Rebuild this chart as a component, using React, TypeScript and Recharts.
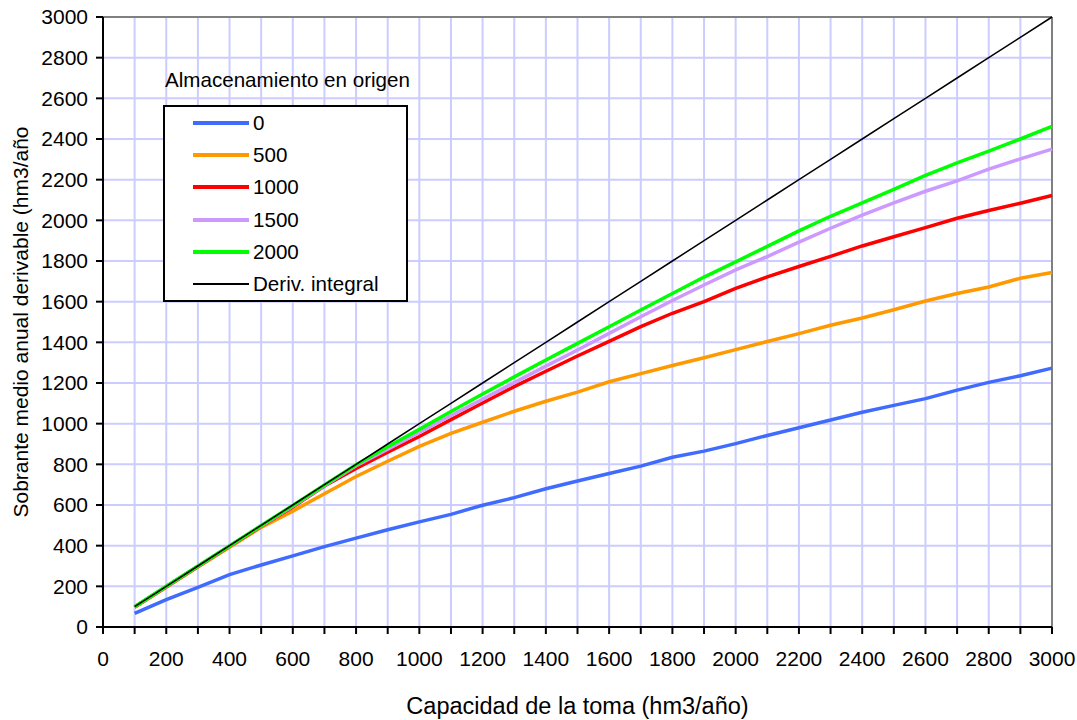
import React from "react";
import {
  LineChart,
  Line,
  XAxis,
  YAxis,
  CartesianGrid,
  Legend,
  ReferenceLine,
} from "recharts";

// Capacidad de la toma (hm3/año)
const capacity = [
  100, 200, 300, 400, 500, 600, 700, 800, 900, 1000, 1100, 1200, 1300, 1400, 1500,
  1600, 1700, 1800, 1900, 2000, 2100, 2200, 2300, 2400, 2500, 2600, 2700, 2800, 2900, 3000,
];

// Sobrante por almacenamiento en origen
const s0 = [
  67, 135, 195, 258, 305, 350, 395, 437, 478, 517, 554, 599, 636, 680, 718,
  755, 791, 835, 865, 902, 942, 980, 1018, 1056, 1090, 1123, 1165, 1203, 1236, 1273,
];
const s500 = [
  97, 195, 295, 392, 490, 570, 655, 740, 815, 888, 952, 1007, 1061, 1110, 1155,
  1206, 1246, 1286, 1324, 1364, 1404, 1443, 1484, 1520, 1560, 1603, 1640, 1672, 1715, 1743,
];
const s1000 = [
  98, 198, 298, 397, 495, 590, 693, 780, 860, 937, 1020, 1102, 1182, 1258, 1333,
  1405, 1477, 1543, 1600, 1665, 1722, 1773, 1823, 1874, 1919, 1964, 2010, 2048, 2084, 2122,
];
const s1500 = [
  99, 199, 299, 398, 497, 594, 695, 793, 875, 957, 1040, 1120, 1202, 1283, 1362,
  1444, 1526, 1606, 1682, 1756, 1822, 1893, 1961, 2026, 2086, 2143, 2194, 2252, 2302, 2350,
];
const s2000 = [
  100, 200, 300, 399, 499, 598, 698, 798, 886, 972, 1060, 1146, 1230, 1313, 1395,
  1477, 1559, 1640, 1721, 1796, 1872, 1948, 2020, 2086, 2152, 2221, 2283, 2340, 2400, 2462,
];
const deriv = [
  100, 200, 300, 400, 500, 600, 700, 800, 900, 1000, 1100, 1200, 1300, 1400, 1500,
  1600, 1700, 1800, 1900, 2000, 2100, 2200, 2300, 2400, 2500, 2600, 2700, 2800, 2900, 3000,
];

const xTicks = [
  0, 100, 200, 300, 400, 500, 600, 700, 800, 900, 1000, 1100, 1200, 1300, 1400, 1500,
  1600, 1700, 1800, 1900, 2000, 2100, 2200, 2300, 2400, 2500, 2600, 2700, 2800, 2900, 3000,
];
const yTicks = [0, 200, 400, 600, 800, 1000, 1200, 1400, 1600, 1800, 2000, 2200, 2400, 2600, 2800, 3000];

const series = [
  { key: "s0", name: "0", color: "#3f6cff", width: 3.5 },
  { key: "s500", name: "500", color: "#ff9900", width: 3.5 },
  { key: "s1000", name: "1000", color: "#ff0000", width: 3.5 },
  { key: "s1500", name: "1500", color: "#cc99ff", width: 3.5 },
  { key: "s2000", name: "2000", color: "#00ff00", width: 3.5 },
  { key: "deriv", name: "Deriv. integral", color: "#000000", width: 1.5 },
];

const data = capacity.map((c, i) => ({
  c,
  s0: s0[i],
  s500: s500[i],
  s1000: s1000[i],
  s1500: s1500[i],
  s2000: s2000[i],
  deriv: deriv[i],
}));

const FONT = "'Liberation Sans', Arial, sans-serif";

const renderLegend = (props: any) => {
  const payload = props.payload || [];
  // keep the series order, not recharts' sorted order
  const items = series
    .map((s) => ({ s, p: payload.find((p: any) => p.value === s.name) }))
    .filter((x) => x.p);
  return (
    <div style={{ fontFamily: FONT, fontSize: 20.6, color: "#000" }}>
      <div style={{ height: 22, lineHeight: "22px", marginLeft: 2, whiteSpace: "nowrap" }}>
        Almacenamiento en origen
      </div>
      <div
        style={{
          marginTop: 14,
          width: 241,
          height: 193,
          border: "2px solid #000",
          background: "#fff",
        }}
      >
        {items.map(({ s, p }) => (
          <div
            key={s.key}
            style={{ height: 32.2, display: "flex", alignItems: "center", paddingLeft: 28 }}
          >
            <div
              style={{
                width: 56,
                height: s.width > 2 ? 4 : 2,
                background: p.color,
                marginRight: 4,
              }}
            />
            <span style={{ lineHeight: "22px", whiteSpace: "nowrap" }}>{p.value}</span>
          </div>
        ))}
      </div>
    </div>
  );
};

export default function App() {
  return (
    <div style={{ position: "absolute", left: 0, top: 0, background: "#fff" }}>
      <LineChart
        width={1077}
        height={720}
        data={data}
        margin={{ top: 17, right: 25, left: 0, bottom: 0 }}
      >
        <CartesianGrid stroke="#ccccff" strokeWidth={2} />
        <XAxis
          dataKey="c"
          type="number"
          domain={[0, 3000]}
          ticks={xTicks}
          interval={0}
          height={93}
          tickSize={7}
          tickMargin={17}
          tickFormatter={(v: number) => (v % 200 === 0 ? String(v) : "")}
          axisLine={{ stroke: "#000", strokeWidth: 2 }}
          tickLine={{ stroke: "#000", strokeWidth: 2 }}
          tick={{ fill: "#000", fontSize: 21, fontFamily: FONT }}
          label={{
            value: "Capacidad de la toma (hm3/año)",
            position: "insideBottom",
            offset: 6,
            fill: "#000",
            fontSize: 23.5,
            fontFamily: FONT,
          }}
        />
        <YAxis
          type="number"
          domain={[0, 3000]}
          ticks={yTicks}
          interval={0}
          width={103}
          tickSize={7}
          tickMargin={8}
          axisLine={{ stroke: "#000", strokeWidth: 2 }}
          tickLine={{ stroke: "#000", strokeWidth: 2 }}
          tick={{ fill: "#000", fontSize: 21, fontFamily: FONT }}
          label={{
            value: "Sobrante medio anual derivable (hm3/año",
            angle: -90,
            position: "center",
            dx: -31,
            dy: 0,
            fill: "#000",
            fontSize: 21,
            fontFamily: FONT,
          }}
        />
        <ReferenceLine y={3000} stroke="#808080" strokeWidth={2} />
        <ReferenceLine x={3000} stroke="#808080" strokeWidth={2} />
        {series.map((s) => (
          <Line
            key={s.key}
            dataKey={s.key}
            name={s.name}
            type="linear"
            stroke={s.color}
            strokeWidth={s.width}
            dot={false}
            activeDot={false}
            isAnimationActive={false}
          />
        ))}
        <Legend
          layout="vertical"
          align="center"
          verticalAlign="middle"
          content={renderLegend}
          wrapperStyle={{ left: 163, top: 69, width: 260, height: 240 }}
        />
      </LineChart>
    </div>
  );
}
